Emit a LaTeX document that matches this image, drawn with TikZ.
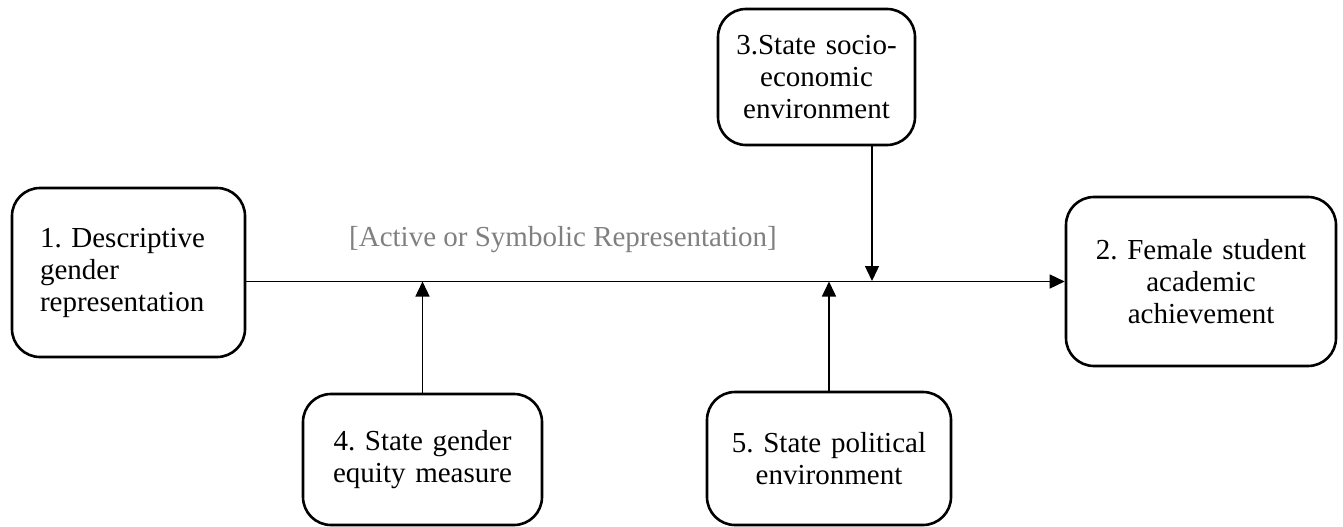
\documentclass[tikz,border=0pt]{standalone}
\usepackage{fontspec}
\setmainfont{Liberation Serif}
\usetikzlibrary{arrows.meta}

\begin{document}
\begin{tikzpicture}[x=1pt,y=-1pt,
	blk/.style={draw,line width=2.6pt,rounded corners=28pt,align=center,inner xsep=14pt,font=\fontsize{29}{32}\selectfont\frenchspacing},
	arr/.style={line width=1.4pt,-{Triangle[length=15pt,width=14pt]}}]
	\useasboundingbox (0,0) rectangle (1343,527);
	\node[blk,align=left,text width=177pt,inner xsep=28pt,minimum height=169pt] (1) at (128.5,272.5) {1. Descriptive\\gender\\representation};
	\node[blk,text width=242pt,minimum height=169pt] (2) at (1201,281.5) {2. Female student\\academic\\achievement};
	\node[blk,text width=169pt,minimum height=136pt] (3) at (816.5,77) {3.State socio-\\economic\\environment};
	\node[blk,text width=211pt,minimum height=131pt] (4) at (422.5,459.5) {4. State gender\\equity measure};
	\node[blk,text width=216pt,minimum height=133pt] (5) at (829,458.5) {5. State political\\environment};
	\node[text=gray,font=\fontsize{29}{32}\selectfont] (lbl) at (563,240) {[Active or Symbolic Representation]};
	\coordinate (m3) at (872,281);
	\draw[arr] (1.east |- 2.west) -- (2.west);
	\draw[arr] (3.south -| m3) -- (m3);
	\draw[arr] (4.north) -- (4.north |- 2.west);
	\draw[arr] (5.north) -- (5.north |- 2.west);
\end{tikzpicture}
\end{document}
